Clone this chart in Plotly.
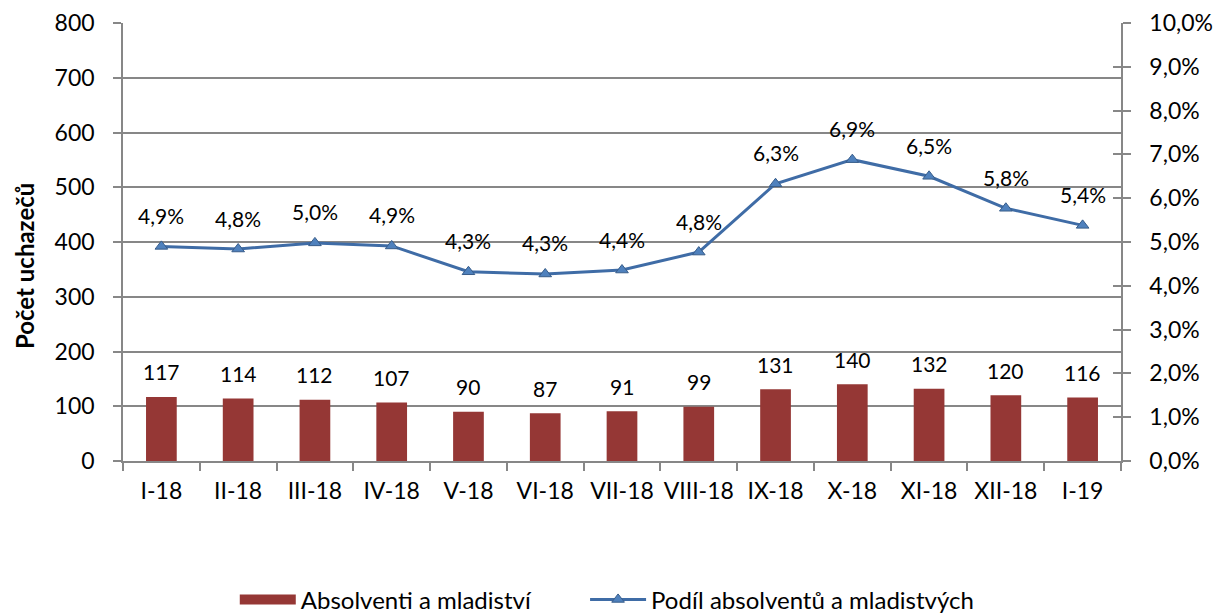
import plotly.graph_objects as go

categories = ["I-18", "II-18", "III-18", "IV-18", "V-18", "VI-18", "VII-18",
              "VIII-18", "IX-18", "X-18", "XI-18", "XII-18", "I-19"]
absolventi = [117, 114, 112, 107, 90, 87, 91, 99, 131, 140, 132, 120, 116]
podil = [0.0490, 0.0484, 0.0498, 0.0491, 0.0432, 0.0427, 0.0436, 0.0477,
         0.0633, 0.0688, 0.0650, 0.0577, 0.0538]

bar_name = "Absolventi a mladiství"
line_name = "Podíl absolventů a mladistvých"
y_title = "Počet uchazečů"

FONT = "Lato"
GRID = "#878787"
BAR_COLOR = "#953735"
LINE_COLOR = "#3F6CA6"

fig = go.Figure()
fig.add_trace(go.Bar(
    x=categories, y=absolventi, name=bar_name, showlegend=False,
    marker=dict(color=BAR_COLOR, line=dict(width=0)), width=0.4,
    yaxis="y",
))
# legend swatch for the bars (wide rectangle like the original), also hosts y3
fig.add_trace(go.Scatter(
    x=[None], y=[None], name=bar_name, mode="lines", yaxis="y3",
    line=dict(color=BAR_COLOR, width=17), hoverinfo="skip", legend="legend",
))
fig.add_trace(go.Scatter(
    x=categories, y=podil, name=line_name,
    mode="lines+markers", yaxis="y2", legend="legend2",
    line=dict(color=LINE_COLOR, width=3),
    marker=dict(symbol="triangle-up", size=11, color="#4F81BD",
                line=dict(color="#385D8A", width=1)),
))

annotations = []
for c, v in zip(categories, absolventi):
    annotations.append(dict(x=c, y=v, xref="x", yref="y", text=str(v),
                            showarrow=False, yshift=25,
                            font=dict(family=FONT, size=21, color="#000")))
for c, p in zip(categories, podil):
    annotations.append(dict(x=c, y=p, xref="x", yref="y2",
                            text=f"{p*100:.1f}%".replace(".", ","),
                            showarrow=False, yshift=31,
                            font=dict(family=FONT, size=21, color="#000")))
annotations.append(dict(x=0, y=0.445, xref="paper", yref="paper",
                        text=f"<b>{y_title}</b>", textangle=-90,
                        showarrow=False, xshift=-99, xanchor="center",
                        yanchor="middle",
                        font=dict(family=FONT, size=24, color="#000")))

legend_common = dict(orientation="h", y=-0.317, yanchor="middle",
                     font=dict(family=FONT, size=24), itemwidth=56,
                     bgcolor="rgba(0,0,0,0)")

fig.update_layout(
    width=1216, height=614,
    margin=dict(l=123, r=95, t=23, b=153, autoexpand=False),
    plot_bgcolor="white", paper_bgcolor="white",
    separators=", ",
    font=dict(family=FONT, size=23, color="#000"),
    showlegend=True,
    legend=dict(x=0.112, xanchor="left", **legend_common),
    legend2=dict(x=0.463, xanchor="left", **legend_common),
    xaxis=dict(range=[-0.5, len(categories) - 0.5],
               showline=True, linecolor=GRID, linewidth=1.5,
               ticks="outside", ticklen=8, tickcolor=GRID, tickwidth=1.5,
               tickson="boundaries", showgrid=False, ticklabelstandoff=9,
               tickangle=0, tickfont=dict(family=FONT, size=23)),
    yaxis=dict(range=[0, 800], dtick=100, showline=True, linecolor=GRID,
               linewidth=1.5, ticks="outside", ticklen=8, tickcolor=GRID,
               tickwidth=1.5, showgrid=True, gridcolor=GRID, gridwidth=1.5,
               zeroline=False, ticklabelstandoff=14,
               tickfont=dict(family=FONT, size=23)),
    yaxis2=dict(range=[0, 0.10], dtick=0.01, tickformat=".1%",
                overlaying="y", side="right", showline=True, linecolor=GRID,
                linewidth=1.5, ticks="outside", ticklen=8, tickcolor=GRID,
                tickwidth=1.5, showgrid=False, zeroline=False,
                ticklabelstandoff=14,
                tickfont=dict(family=FONT, size=23)),
    yaxis3=dict(range=[0, 0.10], dtick=0.01, overlaying="y", side="right",
                ticks="inside", ticklen=8, tickcolor=GRID, tickwidth=1.5,
                showticklabels=False, showgrid=False, zeroline=False,
                showline=False),
    annotations=annotations,
)

fig.write_html("out.html", config={"displayModeBar": False},
               post_script="document.body.style.margin='0';")
